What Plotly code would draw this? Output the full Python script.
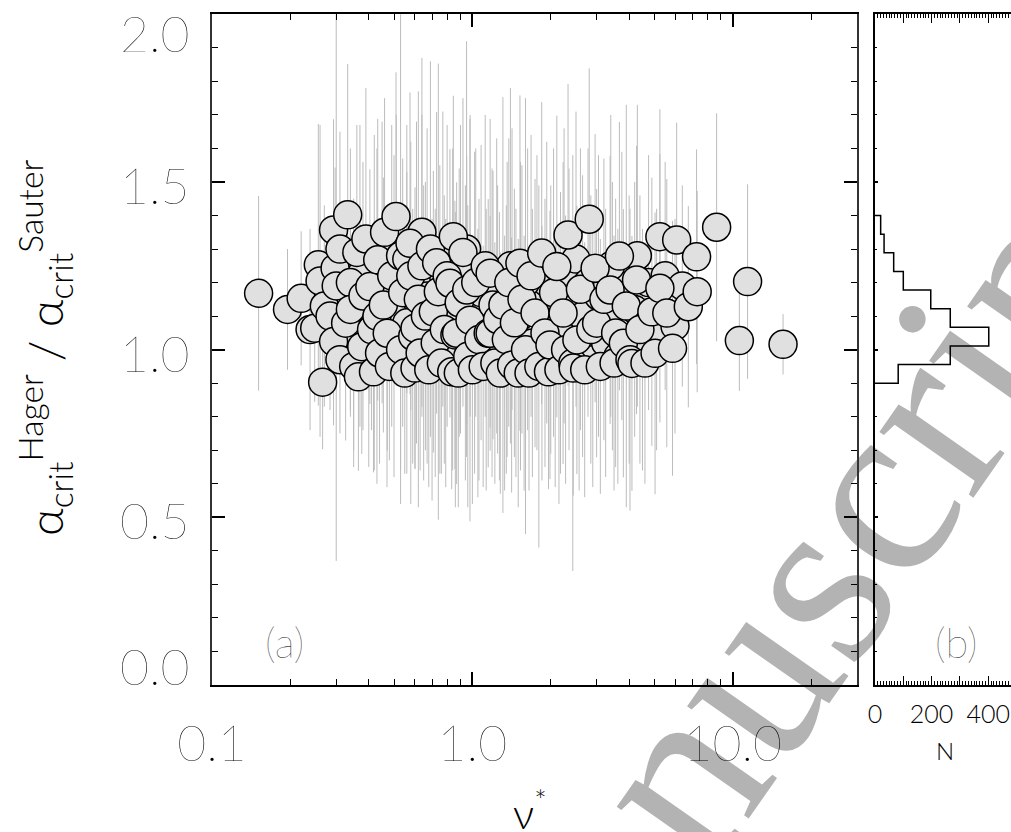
import math
import plotly.graph_objects as go

# collisionality nu* and alpha_crit ratio (Hager / Sauter) with 1-sigma spread
nu_star = [
    0.35, 0.37, 0.40, 0.42, 0.45, 0.47, 0.50, 0.51, 0.56, 0.58, 0.61, 0.65, 0.67, 0.70, 0.75, 0.77,
    0.79, 0.84, 0.86, 0.90, 0.94, 0.98, 1.02, 1.05, 1.08, 1.13, 1.19, 1.24, 1.27, 1.33, 1.36, 1.42,
    1.47, 1.53, 1.58, 1.63, 1.70, 1.77, 1.85, 1.93, 2.00, 2.08, 2.18, 2.25, 2.35, 2.50, 2.57, 2.65,
    2.78, 2.90, 3.05, 3.25, 3.45, 3.62, 3.75, 4.00, 4.20, 4.50, 4.75, 5.10, 5.50, 6.00, 6.40,
    0.64, 0.95, 1.40, 1.60, 3.40, 4.30,
    0.151, 0.195, 0.220, 0.238, 0.248, 0.256, 0.260, 0.266, 0.27, 0.284, 0.293, 0.293, 0.297, 0.30,
    0.31, 0.31, 0.326, 0.332, 0.34, 0.34, 0.35, 0.36, 0.365, 0.376, 0.38, 0.39, 0.404, 0.41, 0.417,
    0.43, 0.433, 0.44, 0.455, 0.46, 0.471, 0.48, 0.49, 0.509, 0.53, 0.53, 0.54, 0.55, 0.56, 0.576,
    0.580, 0.59, 0.602, 0.602, 0.62, 0.63, 0.64, 0.66, 0.68, 0.69, 0.708, 0.72, 0.729, 0.74, 0.76,
    0.78, 0.80, 0.82, 0.833, 0.845, 0.857, 0.87, 0.883, 0.89, 0.92, 0.951, 0.96, 0.979, 1.00, 1.03,
    1.06, 1.10, 1.12, 1.15, 1.17, 1.17, 1.20, 1.22, 1.25, 1.28, 1.31, 1.35, 1.38, 1.415, 1.45, 1.50,
    1.523, 1.55, 1.60, 1.65, 1.68, 1.74, 1.80, 1.846, 1.90, 1.96, 1.986, 2.05, 2.11, 2.15, 2.23,
    2.28, 2.33, 2.43, 2.44, 2.52, 2.60, 2.70, 2.81, 2.85, 2.96, 3.00, 3.10, 3.20, 3.38, 3.50, 3.55,
    3.67, 3.80, 3.90, 4.03, 4.10, 4.27, 4.40, 4.60, 4.89, 5.03, 5.25, 5.25, 5.58, 5.87, 6.09, 6.75,
    7.26, 7.30, 8.67, 10.6, 11.4, 15.6,
]
ratio = [
    1.05, 1.22, 1.00, 1.14, 1.26, 0.97, 1.10, 1.30, 1.08, 0.96, 1.20, 1.05, 1.16, 0.97, 1.09, 1.27,
    0.99, 1.12, 0.97, 1.21, 1.05, 1.25, 1.11, 0.96, 1.17, 1.00, 1.08, 1.19, 1.01, 0.96, 1.12, 1.24,
    1.02, 1.10, 0.96, 1.18, 1.02, 1.14, 0.99, 1.20, 1.09, 0.97, 1.05, 1.22, 1.12, 1.27, 0.98, 1.10,
    1.20, 0.97, 1.16, 1.02, 1.10, 0.98, 1.19, 1.06, 1.12, 1.00, 1.20, 1.06, 1.22, 1.07, 1.19,
    1.35, 1.30, 1.25, 1.20, 1.25, 1.28,
    1.168, 1.120, 1.153, 1.06, 1.064, 1.253, 1.205, 0.903, 1.13, 1.10, 1.357, 1.024, 1.243, 1.19,
    1.30, 0.97, 1.079, 1.402, 1.20, 1.12, 0.95, 1.29, 0.919, 1.009, 1.16, 1.33, 1.188, 1.06, 0.934,
    1.10, 1.268, 0.99, 1.133, 1.35, 1.049, 0.95, 1.22, 1.397, 1.28, 1.00, 1.17, 0.93, 1.27, 1.317,
    1.220, 1.04, 0.945, 1.064, 1.15, 0.99, 1.25, 1.10, 0.94, 1.30, 1.113, 1.02, 1.259, 1.173, 0.96,
    1.06, 1.22, 1.198, 0.934, 1.337, 1.044, 1.049, 0.930, 1.14, 1.29, 1.178, 0.98, 1.088, 0.94, 1.20,
    1.03, 0.95, 1.25, 1.049, 1.228, 1.049, 1.133, 0.96, 1.09, 0.93, 1.133, 1.03, 1.20, 0.954, 1.08, 0.93,
    1.258, 1.15, 1.00, 0.93, 1.22, 1.109, 0.95, 1.288, 1.05, 0.934, 1.014, 1.17, 1.248, 0.94, 1.109,
    1.00, 1.342, 0.96, 0.945, 1.029, 1.18, 0.94, 1.389, 1.06, 1.243, 1.079, 0.95, 1.15, 1.178, 0.96, 1.05,
    1.279, 1.019, 1.13, 0.97, 0.959, 1.208, 1.06, 0.96, 1.113, 0.989, 1.183, 1.337, 1.109, 1.004, 1.327, 1.128,
    1.277, 1.173, 1.365, 1.027, 1.203, 1.016,
]
ratio_err = [
    0.40, 0.45, 0.35, 0.50, 0.42, 0.38, 0.48, 0.40, 0.45, 0.42, 0.48, 0.44, 0.50, 0.42, 0.46, 0.44,
    0.40, 0.48, 0.44, 0.46, 0.44, 0.45, 0.48, 0.40, 0.44, 0.42, 0.46, 0.44, 0.40, 0.38, 0.44, 0.42,
    0.40, 0.46, 0.38, 0.42, 0.40, 0.44, 0.38, 0.42, 0.40, 0.38, 0.42, 0.44, 0.42, 0.44, 0.40, 0.42,
    0.40, 0.38, 0.42, 0.40, 0.40, 0.38, 0.40, 0.40, 0.38, 0.36, 0.38, 0.36, 0.34, 0.32, 0.30,
    0.52, 0.62, 0.53, 0.55, 0.45, 0.45,
    0.29, 0.18, 0.20, 0.30, 0.22, 0.42, 0.465, 0.20, 0.30, 0.28, 0.33, 0.25, 0.30, 0.82,
    0.35, 0.22, 0.35, 0.45, 0.40, 0.30, 0.25, 0.38, 0.28, 0.32, 0.40, 0.45, 0.35, 0.30, 0.30,
    0.50, 0.42, 0.33, 0.38, 0.40, 0.35, 0.28, 0.45, 0.43, 0.74, 0.36, 0.40, 0.30, 0.40, 0.45,
    0.40, 0.38, 0.30, 0.42, 0.62, 0.35, 0.45, 0.40, 0.35, 0.56, 0.42, 0.40, 0.45, 0.68, 0.33,
    0.40, 0.45, 0.40, 0.35, 0.42, 0.40, 0.45, 0.40, 0.40, 0.46, 0.40, 0.45, 0.60, 0.40, 0.40,
    0.42, 0.36, 0.45, 0.40, 0.46, 0.35, 0.40, 0.36, 0.40, 0.36, 0.62, 0.40, 0.43, 0.38, 0.40, 0.40,
    0.50, 0.40, 0.55, 0.35, 0.42, 0.40, 0.54, 0.45, 0.40, 0.35, 0.40, 0.43, 0.45, 0.40, 0.45,
    0.40, 0.45, 0.62, 0.38, 0.40, 0.42, 0.38, 0.45, 0.40, 0.40, 0.40, 0.38, 0.42, 0.40, 0.38, 0.40,
    0.40, 0.40, 0.60, 0.45, 0.38, 0.40, 0.40, 0.36, 0.40, 0.42, 0.40, 0.38, 0.40, 0.38, 0.35, 0.30,
    0.32, 0.30, 0.34, 0.15, 0.29, 0.09,
]

# distribution of the ratio (panel b)
hist_edges = [0.900, 0.9556, 1.0111, 1.0667, 1.1222, 1.1778, 1.2333, 1.2889, 1.3444, 1.400]
hist_counts = [82, 266, 402, 266, 197, 100, 66, 32, 20]

x_tick_vals = [0.1, 1.0, 10.0]
x_tick_text = ["0.1", "1.0", "10.0"]
y_tick_vals = [0.0, 0.5, 1.0, 1.5, 2.0]
y_tick_text = ["0.0", "0.5", "1.0", "1.5", "2.0"]
n_tick_vals = [0, 100, 200, 300, 400]
n_tick_text = ["0", " ", "200", " ", "400"]

W, H = 1011, 832
THIN = "Lato"


def fx(p):
    return p / W


def fy(p):
    return 1 - p / H


# step outline for the histogram
hx, hy = [0], [hist_edges[0]]
for c, lo, hi in zip(hist_counts, hist_edges[:-1], hist_edges[1:]):
    hx += [c, c]
    hy += [lo, hi]
hx.append(0)
hy.append(hist_edges[-1])

fig = go.Figure()

fig.add_trace(go.Scatter(
    x=nu_star, y=ratio, mode="markers",
    error_y=dict(type="data", array=ratio_err, color="#bcbcbc", thickness=1, width=0),
    marker=dict(size=28, color="#e0e0e0", line=dict(color="black", width=1.5)),
    xaxis="x", yaxis="y", showlegend=False, hoverinfo="skip",
))

fig.add_trace(go.Scatter(
    x=hx, y=hy, mode="lines", line=dict(color="black", width=1.5),
    xaxis="x2", yaxis="y2", showlegend=False, hoverinfo="skip",
))

minor_log = [0.2, 0.3, 0.4, 0.5, 0.6, 0.7, 0.8, 0.9, 2, 3, 4, 5, 6, 7, 8, 9, 20]
minor_y = [round(0.1 * i, 1) for i in range(21)]
minor_n = list(range(0, 490, 10))

ydom = [fy(685), fy(14.3)]

fig.update_layout(
    width=W, height=H,
    margin=dict(l=0, r=0, t=0, b=0, autoexpand=False),
    paper_bgcolor="white", plot_bgcolor="rgba(0,0,0,0)",
    xaxis=dict(
        type="log", domain=[fx(212), fx(857)], range=[-1, math.log10(30)], anchor="y",
        automargin=False,
        tickmode="array", tickvals=x_tick_vals, ticktext=x_tick_text,
        ticks="inside", ticklen=13, tickwidth=1.5, tickcolor="black",
        minor=dict(tickmode="array", tickvals=minor_log, ticks="inside", ticklen=6,
                   tickwidth=1.2, tickcolor="black"),
        showline=True, linecolor="black", linewidth=1.5, mirror="ticks",
        showgrid=False, zeroline=False,
        tickfont=dict(family=THIN, size=50, color="black", weight=200),
        ticklabelstandoff=14,
    ),
    yaxis=dict(
        domain=ydom, range=[0, 2], anchor="x", automargin=False,
        tickmode="array", tickvals=y_tick_vals, showticklabels=False,
        ticks="inside", ticklen=13, tickwidth=1.5, tickcolor="black",
        minor=dict(tickmode="array", tickvals=minor_y, ticks="inside", ticklen=6,
                   tickwidth=1.2, tickcolor="black"),
        showline=True, linecolor="#333333", linewidth=2, mirror="ticks",
        showgrid=False, zeroline=False,
    ),
    xaxis2=dict(
        domain=[fx(875), 1.0], range=[0, 480.6], anchor="y2", automargin=False,
        tickmode="array", tickvals=n_tick_vals, ticktext=n_tick_text,
        ticks="inside", ticklen=9, tickwidth=1, tickcolor="black",
        minor=dict(tickmode="array", tickvals=minor_n, ticks="inside", ticklen=4,
                   tickwidth=1, tickcolor="black"),
        showline=True, linecolor="black", linewidth=1.5, mirror="ticks",
        showgrid=False, zeroline=False,
        tickfont=dict(family=THIN, size=25, color="black", weight=300),
        ticklabelstandoff=6,
    ),
    yaxis2=dict(
        domain=ydom, range=[0, 2], anchor="x2", automargin=False,
        tickmode="array", tickvals=y_tick_vals, showticklabels=False,
        ticks="inside", ticklen=3, tickwidth=1.5, tickcolor="black",
        minor=dict(tickmode="array", tickvals=minor_y, ticks="inside", ticklen=2,
                   tickwidth=1, tickcolor="black"),
        showline=True, linecolor="black", linewidth=1.5,
        showgrid=False, zeroline=False,
    ),
)

# y tick labels; the end labels sit inside the frame
shifts = {0.0: 19, 2.0: -19}
for v, t in zip(y_tick_vals, y_tick_text):
    fig.add_annotation(
        x=fx(192), y=v, xref="paper", yref="y", text=t, showarrow=False,
        xanchor="right", yanchor="middle", yshift=shifts.get(v, -3),
        font=dict(family=THIN, size=50, color="black", weight=200),
    )

fig.add_annotation(
    x=fx(45), y=fy(348), xref="paper", yref="paper", showarrow=False, textangle=-90,
    text="α<sub>crit</sub><sup>Hager</sup> / α<sub>crit</sub><sup>Sauter</sup>",
    font=dict(family=THIN, size=48, color="black", weight=300),
    xanchor="center", yanchor="middle",
)
fig.add_annotation(
    x=fx(530), y=fy(810), xref="paper", yref="paper", showarrow=False,
    text="ν<sup>*</sup>", font=dict(family=THIN, size=42, color="black", weight=300),
    xanchor="center", yanchor="middle",
)
fig.add_annotation(
    x=fx(284), y=fy(642), xref="paper", yref="paper", showarrow=False,
    text="(a)", font=dict(family=THIN, size=42, color="black", weight=200),
    xanchor="center", yanchor="middle",
)
fig.add_annotation(
    x=fx(956), y=fy(642), xref="paper", yref="paper", showarrow=False,
    text="(b)", font=dict(family=THIN, size=42, color="black", weight=200),
    xanchor="center", yanchor="middle",
)
fig.add_annotation(
    x=fx(945), y=fy(750), xref="paper", yref="paper", showarrow=False,
    text="N", font=dict(family=THIN, size=24, color="black", weight=300),
    xanchor="center", yanchor="middle",
)

# diagonal watermark behind the plot
cx, cy = fx(463), fy(1032)
fig.add_shape(
    type="rect", xref="paper", yref="paper",
    x0=cx - 0.001, x1=cx + 0.001, y0=cy - 0.001, y1=cy + 0.001,
    line=dict(width=0, color="rgba(0,0,0,0)"), fillcolor="rgba(0,0,0,0)", layer="below",
    label=dict(text="Accepted Manuscript", textangle=-55, textposition="middle center",
               font=dict(family="Liberation Serif", size=250, color="#b3b3b3")),
)

fig.write_html("out.html")
